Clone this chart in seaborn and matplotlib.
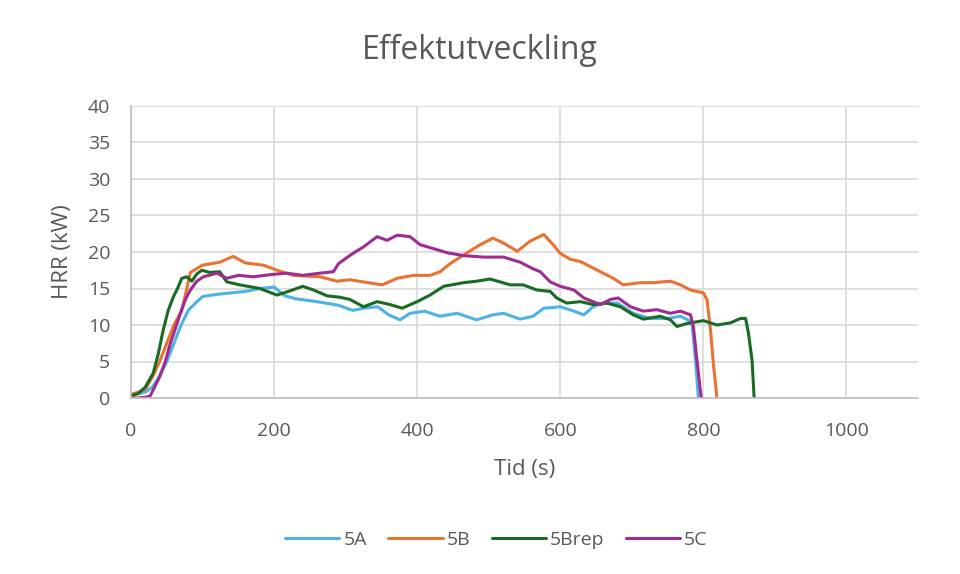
"""Effektutveckling: HRR over time for tests 5A, 5B, 5Brep and 5C."""
import numpy as np
import pandas as pd
import matplotlib
matplotlib.use("Agg")
import matplotlib.pyplot as plt
import seaborn as sns

# time (s) and HRR (kW)
t_5a = [0, 10, 20, 30, 40, 50, 60, 70, 80, 90, 100, 120, 140, 160, 180, 200, 215, 230, 260, 290,
        310, 325, 345, 360, 376, 390, 410, 432, 456, 483, 506, 521, 544, 562, 577, 590, 600, 619,
        633, 646, 660, 680, 702, 726, 750, 768, 784, 789, 793]
hrr_5a = [0.5, 0.6, 0.8, 1.5, 3, 5, 7.5, 10, 12, 13, 13.9, 14.2, 14.4, 14.6, 15.0, 15.2, 14.0,
          13.6, 13.2, 12.7, 12.0, 12.3, 12.5, 11.4, 10.7, 11.6, 11.9, 11.2, 11.6, 10.7, 11.4, 11.6,
          10.8, 11.2, 12.3, 12.4, 12.5, 11.9, 11.4, 12.5, 13.0, 13.0, 11.6, 10.9, 10.9, 11.2, 10.4,
          5.2, 0]

t_5b = [0, 10, 20, 30, 40, 50, 60, 71, 78, 83, 100, 124, 143, 160, 185, 204, 227, 264, 288, 306,
        325, 351, 372, 395, 418, 432, 446, 465, 488, 506, 521, 540, 558, 577, 590, 600, 614, 628,
        656, 674, 688, 712, 730, 754, 768, 782, 800, 805, 810, 814, 819]
hrr_5b = [0.5, 0.8, 1.2, 2.9, 5, 7.5, 10, 12, 15, 17.2, 18.2, 18.6, 19.4, 18.5, 18.2, 17.5, 16.8,
          16.6, 16.0, 16.2, 15.9, 15.5, 16.4, 16.8, 16.8, 17.3, 18.4, 19.6, 21.0, 21.9, 21.2, 20.1,
          21.5, 22.4, 21.0, 19.8, 19.0, 18.7, 17.3, 16.4, 15.5, 15.8, 15.8, 16.0, 15.5, 14.8, 14.4,
          13.5, 9.3, 4.7, 0]

t_5brep = [0, 10, 20, 31, 38, 45, 52, 59, 65, 71, 78, 85, 92, 99, 110, 124, 134, 152, 180, 204,
           220, 240, 255, 274, 292, 306, 325, 344, 362, 379, 400, 418, 437, 465, 483, 502, 530,
           548, 567, 586, 595, 609, 628, 646, 665, 684, 702, 716, 740, 754, 763, 777, 800, 819,
           838, 852, 859, 863, 868, 871]
hrr_5brep = [0.3, 0.6, 1.5, 3.4, 6, 9.3, 12, 13.8, 15, 16.4, 16.6, 16.0, 17.0, 17.5, 17.2, 17.3,
             15.9, 15.5, 15.0, 14.1, 14.6, 15.3, 14.8, 14.0, 13.8, 13.5, 12.5, 13.2, 12.8, 12.3,
             13.2, 14.1, 15.3, 15.8, 16.0, 16.3, 15.5, 15.5, 14.8, 14.6, 13.7, 13.0, 13.2, 12.8,
             13.0, 12.5, 11.4, 10.8, 11.2, 10.7, 9.8, 10.2, 10.6, 10.0, 10.3, 10.9, 10.9, 8.9,
             5.2, 0]

t_5c = [0, 10, 20, 27, 33, 40, 48, 55, 62, 69, 76, 83, 92, 101, 120, 134, 150, 171, 195, 218,
        240, 264, 283, 290, 297, 310, 325, 344, 358, 372, 390, 404, 418, 442, 465, 493, 521, 544,
        562, 572, 586, 600, 619, 633, 656, 670, 681, 698, 716, 735, 754, 768, 782, 786, 791, 797]
hrr_5c = [0, 0, 0.1, 0.3, 1.5, 2.9, 5, 7.5, 9.5, 11.6, 13.5, 14.8, 16, 16.6, 17.1, 16.4, 16.8,
          16.6, 16.9, 17.1, 16.8, 17.1, 17.3, 18.4, 18.9, 19.8, 20.7, 22.1, 21.6, 22.3, 22.1,
          21.0, 20.6, 19.9, 19.5, 19.3, 19.3, 18.6, 17.7, 17.3, 15.9, 15.3, 14.8, 13.7, 12.8,
          13.5, 13.7, 12.5, 11.9, 12.1, 11.6, 11.9, 11.4, 9.8, 5.2, 0]

series = ["5A", "5B", "5Brep", "5C"]
colors = ["#4DB3E6", "#E97132", "#196B24", "#A02B93"]

frames = []
for name, t, v in zip(series, [t_5a, t_5b, t_5brep, t_5c], [hrr_5a, hrr_5b, hrr_5brep, hrr_5c]):
    frames.append(pd.DataFrame({"Tid (s)": t, "HRR (kW)": v, "Test": name}))
df = pd.concat(frames, ignore_index=True)

sns.set_style("white")
plt.rcParams["font.family"] = ["Open Sans", "DejaVu Sans"]
text_col = "#595959"

fig = plt.figure(figsize=(9.6, 5.74), dpi=100)
ax = fig.add_axes([131 / 960, 1 - 398 / 574, (918 - 131) / 960, (398 - 106) / 574])

sns.lineplot(data=df, x="Tid (s)", y="HRR (kW)", hue="Test", hue_order=series,
             palette=colors, estimator=None, sort=False, linewidth=2.2, ax=ax)

ax.set_xlim(0, 1100)
ax.set_ylim(0, 40)
ax.set_xticks(np.arange(0, 1001, 200))
ax.set_yticks(np.arange(0, 41, 5))
ax.grid(True, color="#D9D9D9", linewidth=1.2)
ax.set_axisbelow(True)
for side in ["right", "top"]:
    ax.spines[side].set_visible(False)
for side in ["left", "bottom"]:
    ax.spines[side].set_color("#BFBFBF")
    ax.spines[side].set_linewidth(1.2)
ax.tick_params(axis="both", length=0, labelsize=14, labelcolor=text_col)
ax.tick_params(axis="x", pad=17)
ax.tick_params(axis="y", pad=15)

ax.set_xlabel("Tid (s)", fontsize=16, color=text_col)
ax.set_ylabel("HRR (kW)", fontsize=16, color=text_col)
ax.xaxis.set_label_coords(0.5, -0.209)
ax.yaxis.set_label_coords(-0.074, 0.5)
fig.text(0.5, 1 - 50 / 574, "Effektutveckling", ha="center", va="center",
         fontsize=23, color=text_col)

handles, labels = ax.get_legend_handles_labels()
ax.legend(handles, labels, loc="center", bbox_to_anchor=(0.517, 1 - 540 / 574),
          bbox_transform=fig.transFigure, ncol=4, frameon=False, fontsize=14,
          handlelength=2.8, handletextpad=0.2, columnspacing=1.1, labelcolor=text_col)

fig.savefig("out.png", dpi=100)
